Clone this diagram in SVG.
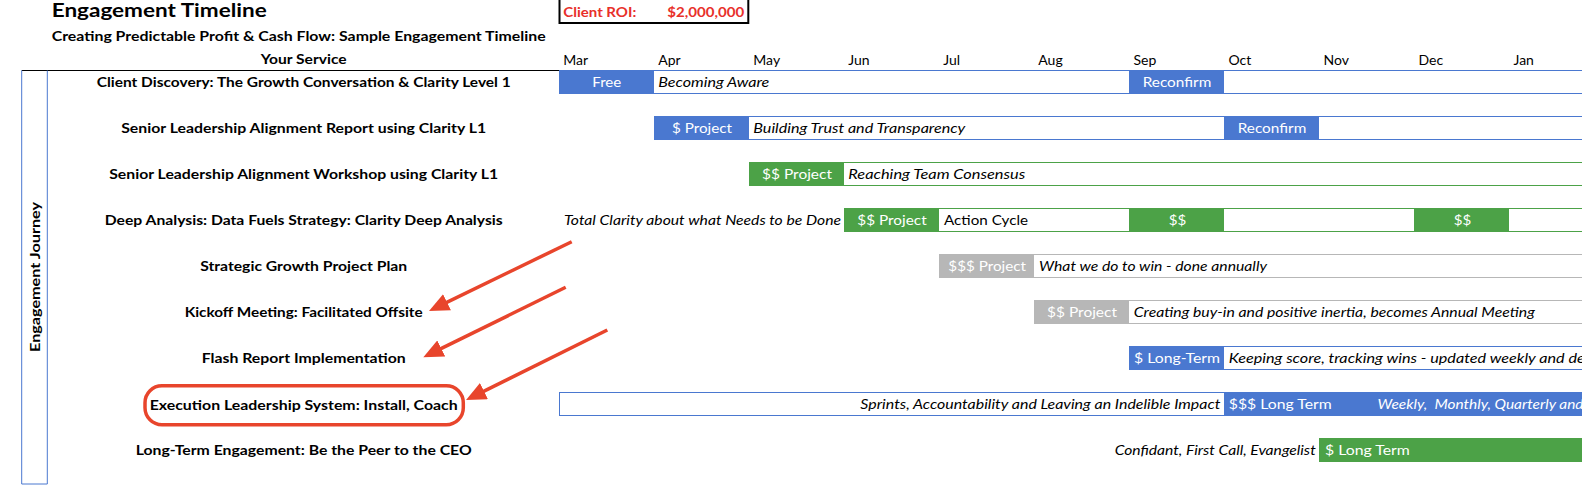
<svg xmlns="http://www.w3.org/2000/svg" width="1582" height="501" viewBox="0 0 1582 501">
<defs>
<style>
text{font-family:Lato,"Open Sans","Liberation Sans",sans-serif;font-size:13.5px;fill:#000}
.b{font-weight:700}
.lbl{font-weight:700;text-anchor:middle}
.w{fill:#fff;font-size:14px}
.it{font-style:italic;font-size:14px}
.mid{text-anchor:middle}
.end{text-anchor:end}
.mo{font-size:14px}
.fb{fill:#4a78d0}
.fg{fill:#4ca247}
.fy{fill:#b7b7b7}
.ob{fill:#fff;stroke:#4a78d0;stroke-width:1}
.og{fill:#fff;stroke:#4ca247;stroke-width:1}
.oy{fill:#fff;stroke:#b7b7b7;stroke-width:1}
.arr{fill:none;stroke:#e8452c;stroke-width:3.5;marker-end:url(#ah)}
</style>
<marker id="ah" viewBox="0 0 20 18" refX="10" refY="9" markerWidth="20" markerHeight="18" markerUnits="userSpaceOnUse" orient="auto">
<path d="M0,0 L20,9 L0,18 z" fill="#e8452c"/>
</marker>
</defs>
<rect width="1582" height="501" fill="#fff"/>

<g id="header">
<text x="51.7" y="17.3" class="b" style="font-size:18.5px" textLength="215" lengthAdjust="spacingAndGlyphs">Engagement Timeline</text>
<text x="51.7" y="40.7" class="b" textLength="494" lengthAdjust="spacingAndGlyphs">Creating Predictable Profit &amp; Cash Flow: Sample Engagement Timeline</text>
<text x="303.7" y="63.5" class="lbl" textLength="86" lengthAdjust="spacingAndGlyphs">Your Service</text>
</g>

<g id="roi">
<rect x="559.5" y="-2" width="188.8" height="25" fill="#fff" stroke="#000" stroke-width="2"/>
<text x="563.3" y="16.7" class="b" style="fill:#e8302a" textLength="73" lengthAdjust="spacingAndGlyphs">Client ROI:</text>
<text x="667.3" y="16.7" class="b" style="fill:#e8302a" textLength="77" lengthAdjust="spacingAndGlyphs">$2,000,000</text>
</g>

<g id="months">
<text x="563.3" y="64.5" class="mo">Mar</text>
<text x="658.3" y="64.5" class="mo">Apr</text>
<text x="753.3" y="64.5" class="mo">May</text>
<text x="848.3" y="64.5" class="mo">Jun</text>
<text x="943.3" y="64.5" class="mo">Jul</text>
<text x="1038.3" y="64.5" class="mo">Aug</text>
<text x="1133.5" y="64.5" class="mo">Sep</text>
<text x="1228.5" y="64.5" class="mo">Oct</text>
<text x="1323.5" y="64.5" class="mo">Nov</text>
<text x="1418.5" y="64.5" class="mo">Dec</text>
<text x="1513.5" y="64.5" class="mo">Jan</text>
</g>

<g id="journey">
<line x1="21.7" y1="70.5" x2="559" y2="70.5" stroke="#000" stroke-width="1"/>
<path d="M21.7,70.5 V484 H47.3 V70.5" fill="none" stroke="#4a78d0" stroke-width="1"/>
<text transform="translate(39.5,277) rotate(-90)" class="lbl" textLength="150" lengthAdjust="spacingAndGlyphs">Engagement Journey</text>
</g>

<g id="row1">
<text x="303.7" y="87.3" class="lbl" textLength="414" lengthAdjust="spacingAndGlyphs">Client Discovery: The Growth Conversation &amp; Clarity Level 1</text>
<rect x="559.5" y="70.5" width="1100" height="23" class="ob"/>
<rect x="559" y="70" width="95" height="24" class="fb"/>
<text x="606.8" y="87.3" class="w mid" textLength="29" lengthAdjust="spacingAndGlyphs">Free</text>
<text x="658.3" y="87.3" class="it" textLength="111" lengthAdjust="spacingAndGlyphs">Becoming Aware</text>
<rect x="1129" y="70" width="95" height="24" class="fb"/>
<text x="1177" y="87.3" class="w mid" textLength="68.6" lengthAdjust="spacingAndGlyphs">Reconfirm</text>
</g>

<g id="row2">
<text x="303.7" y="133.3" class="lbl" textLength="365" lengthAdjust="spacingAndGlyphs">Senior Leadership Alignment Report using Clarity L1</text>
<rect x="654.5" y="116.5" width="1000" height="23" class="ob"/>
<rect x="654" y="116" width="95" height="24" class="fb"/>
<text x="702" y="133.3" class="w mid" textLength="60" lengthAdjust="spacingAndGlyphs">$ Project</text>
<text x="753.3" y="133.3" class="it" textLength="212" lengthAdjust="spacingAndGlyphs">Building Trust and Transparency</text>
<rect x="1224" y="116" width="95" height="24" class="fb"/>
<text x="1272" y="133.3" class="w mid" textLength="68.6" lengthAdjust="spacingAndGlyphs">Reconfirm</text>
</g>

<g id="row3">
<text x="303.7" y="179.3" class="lbl" textLength="389" lengthAdjust="spacingAndGlyphs">Senior Leadership Alignment Workshop using Clarity L1</text>
<rect x="749.5" y="162.5" width="900" height="23" class="og"/>
<rect x="749" y="162" width="95" height="24" class="fg"/>
<text x="797" y="179.3" class="w mid" textLength="70" lengthAdjust="spacingAndGlyphs">$$ Project</text>
<text x="848.3" y="179.3" class="it" textLength="177" lengthAdjust="spacingAndGlyphs">Reaching Team Consensus</text>
</g>

<g id="row4">
<text x="303.7" y="225.3" class="lbl" textLength="398" lengthAdjust="spacingAndGlyphs">Deep Analysis: Data Fuels Strategy: Clarity Deep Analysis</text>
<text x="841" y="225.3" class="it end" textLength="277" lengthAdjust="spacingAndGlyphs">Total Clarity about what Needs to be Done</text>
<rect x="844.5" y="208.5" width="800" height="23" class="og"/>
<rect x="844" y="208" width="95" height="24" class="fg"/>
<text x="892" y="225.3" class="w mid" textLength="69.3" lengthAdjust="spacingAndGlyphs">$$ Project</text>
<text x="944" y="225.3" style="font-size:14px" textLength="84" lengthAdjust="spacingAndGlyphs">Action Cycle</text>
<rect x="1129" y="208" width="95" height="24" class="fg"/>
<text x="1177.6" y="225.3" class="w mid" textLength="17.6" lengthAdjust="spacingAndGlyphs">$$</text>
<rect x="1414" y="208" width="95" height="24" class="fg"/>
<text x="1462.6" y="225.3" class="w mid" textLength="17.6" lengthAdjust="spacingAndGlyphs">$$</text>
</g>

<g id="row5">
<text x="303.7" y="271.3" class="lbl" textLength="207" lengthAdjust="spacingAndGlyphs">Strategic Growth Project Plan</text>
<rect x="939.5" y="254.5" width="700" height="23" class="oy"/>
<rect x="939" y="254" width="95" height="24" class="fy"/>
<text x="987.2" y="271.3" class="w mid" textLength="77.7" lengthAdjust="spacingAndGlyphs">$$$ Project</text>
<text x="1039" y="271.3" class="it" textLength="228" lengthAdjust="spacingAndGlyphs">What we do to win - done annually</text>
</g>

<g id="row6">
<text x="303.7" y="317.3" class="lbl" textLength="238" lengthAdjust="spacingAndGlyphs">Kickoff Meeting: Facilitated Offsite</text>
<rect x="1034.5" y="300.5" width="600" height="23" class="oy"/>
<rect x="1034" y="300" width="95" height="24" class="fy"/>
<text x="1082" y="317.3" class="w mid" textLength="70" lengthAdjust="spacingAndGlyphs">$$ Project</text>
<text x="1133.8" y="317.3" class="it" textLength="401" lengthAdjust="spacingAndGlyphs">Creating buy-in and positive inertia, becomes Annual Meeting</text>
</g>

<g id="row7">
<text x="303.7" y="363.3" class="lbl" textLength="204" lengthAdjust="spacingAndGlyphs">Flash Report Implementation</text>
<rect x="1129.5" y="346.5" width="500" height="23" class="ob"/>
<rect x="1129" y="346" width="95" height="24" class="fb"/>
<text x="1134" y="363.3" class="w" textLength="86" lengthAdjust="spacingAndGlyphs">$ Long-Term</text>
<text x="1228.8" y="363.3" class="it" textLength="356" lengthAdjust="spacingAndGlyphs">Keeping score, tracking wins - updated weekly and de</text>
</g>

<g id="row8">
<text x="303.7" y="409.8" class="lbl" textLength="308" lengthAdjust="spacingAndGlyphs">Execution Leadership System: Install, Coach</text>
<rect x="559.5" y="392.5" width="665" height="23" class="ob"/>
<text x="1220.3" y="409.3" class="it end" textLength="360" lengthAdjust="spacingAndGlyphs">Sprints, Accountability and Leaving an Indelible Impact</text>
<rect x="1224" y="392" width="400" height="24" class="fb"/>
<text x="1228.8" y="409.3" class="w" textLength="103" lengthAdjust="spacingAndGlyphs">$$$ Long Term</text>
<text x="1377.5" y="409.3" class="it" style="fill:#fff;white-space:pre" textLength="206" lengthAdjust="spacingAndGlyphs">Weekly,  Monthly, Quarterly and</text>
</g>

<g id="row9">
<text x="303.7" y="455.3" class="lbl" textLength="336" lengthAdjust="spacingAndGlyphs">Long-Term Engagement: Be the Peer to the CEO</text>
<text x="1315.7" y="455.3" class="it end" textLength="201" lengthAdjust="spacingAndGlyphs">Confidant, First Call, Evangelist</text>
<rect x="1319" y="438" width="300" height="24" class="fg"/>
<text x="1324.9" y="455.3" class="w" textLength="85" lengthAdjust="spacingAndGlyphs">$ Long Term</text>
</g>

<g id="highlight">
<rect x="145" y="385.7" width="318.3" height="39" rx="17" ry="17" fill="none" stroke="#e8452c" stroke-width="3.5"/>
</g>

<g id="connectors">
<line x1="571.7" y1="241.7" x2="438" y2="306.6" class="arr"/>
<line x1="565.7" y1="287.3" x2="432.3" y2="352.9" class="arr"/>
<line x1="607.3" y1="330" x2="475" y2="395.6" class="arr"/>
</g>
</svg>
